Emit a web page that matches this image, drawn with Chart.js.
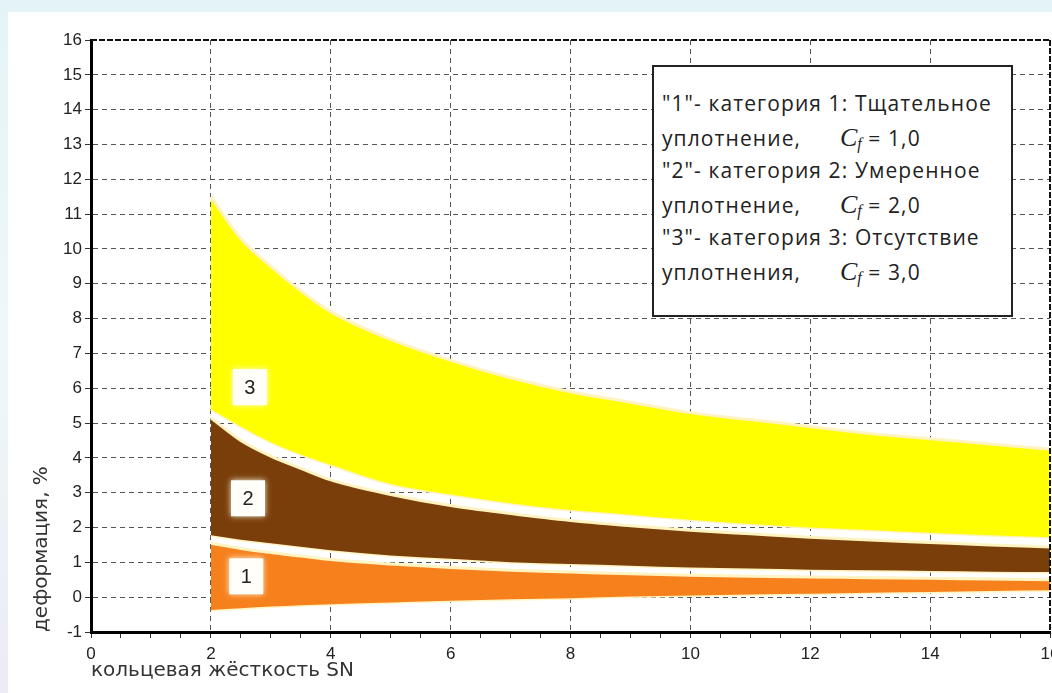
<!DOCTYPE html>
<html>
<head>
<meta charset="utf-8">
<script src="https://cdn.jsdelivr.net/npm/chart.js@4.4.0/dist/chart.umd.min.js"></script>
<style>
  html, body { margin: 0; padding: 0; }
  body {
    width: 1052px; height: 693px; position: relative; overflow: hidden;
    background: linear-gradient(180deg, #e4f4f6 0%, #eef8f8 50%, #ecebf6 100%);
  }
  #panel { position: absolute; left: 8px; top: 12px; right: 0; bottom: 0; background: #fff; }
  #wrap { position: absolute; left: 0; top: 0; width: 1052px; height: 693px; }
  #legendBox {
    position: absolute; left: 652px; top: 65px; width: 361px; height: 252px;
    border: 2px solid #222; background: #fff;
    font-family: "Open Sans", "Noto Sans", sans-serif; font-size: 21px; color: #222;
    letter-spacing: 1.1px;
    padding: 20px 0 0 8px; box-sizing: border-box; line-height: 33.5px;
  }
  #legendBox .row { white-space: nowrap; height: 33.5px; }
  #legendBox .lead { display: inline-block; width: 178px; }
  #legendBox .cf { font-family: "Liberation Serif", serif; font-style: italic; font-size: 26px; letter-spacing: 0; }
  #legendBox .cf sub { font-size: 16px; vertical-align: -3px; }
</style>
</head>
<body>
<div id="panel"></div>
<div id="wrap"><canvas id="chartDeform" width="1052" height="693"></canvas></div>
<div id="legendBox">
  <div class="row">"1"- категория 1: Тщательное</div>
  <div class="row"><span class="lead">уплотнение,</span><span class="cf">C<sub>f</sub></span> = 1,0</div>
  <div class="row">"2"- категория 2: Умеренное</div>
  <div class="row"><span class="lead">уплотнение,</span><span class="cf">C<sub>f</sub></span> = 2,0</div>
  <div class="row">"3"- категория 3: Отсутствие</div>
  <div class="row"><span class="lead">уплотнения,</span><span class="cf">C<sub>f</sub></span> = 3,0</div>
</div>
<script>
// кольцевая жёсткость SN
var sn = [2, 2.5, 3, 3.5, 4, 5, 6, 7, 8, 9, 10, 11, 12, 13, 14, 15, 16];

// деформация, % — upper / lower edges of each category band
var cat3Upper = [11.5, 10.3, 9.5, 8.8, 8.2, 7.4, 6.8, 6.3, 5.9, 5.6, 5.3, 5.1, 4.9, 4.7, 4.55, 4.4, 4.25];
var cat3Lower = [5.4, 4.9, 4.45, 4.1, 3.8, 3.25, 2.95, 2.7, 2.5, 2.37, 2.22, 2.1, 2.0, 1.93, 1.85, 1.78, 1.72];
var cat2Upper = [5.15, 4.5, 4.05, 3.7, 3.37, 2.95, 2.63, 2.4, 2.2, 2.05, 1.92, 1.82, 1.72, 1.64, 1.57, 1.5, 1.44];
var cat2Lower = [1.78, 1.65, 1.55, 1.45, 1.35, 1.2, 1.1, 1.0, 0.95, 0.9, 0.85, 0.82, 0.79, 0.77, 0.75, 0.73, 0.72];
var cat1Upper = [1.55, 1.4, 1.28, 1.18, 1.08, 0.95, 0.85, 0.77, 0.72, 0.67, 0.63, 0.6, 0.58, 0.56, 0.54, 0.52, 0.5];
var cat1Lower = [-0.37, -0.32, -0.27, -0.23, -0.2, -0.15, -0.1, -0.06, -0.03, 0.02, 0.05, 0.08, 0.1, 0.13, 0.15, 0.18, 0.2];

var bandNames = ['3', '2', '1'];

function pts(arr) {
    return sn.map(function (x, i) { return { x: x, y: arr[i] }; });
}

function band(label, arr, color, fill) {
    return {
        label: label,
        data: pts(arr),
        borderColor: '#fff3c2',
        borderWidth: 3,
        backgroundColor: color,
        fill: fill ? '+1' : false,
        pointRadius: 0,
        cubicInterpolationMode: 'monotone'
    };
}

// ── band number boxes + top/right frame ─────────────────────────────────
var extras = {
    id: 'extras',
    afterDatasetsDraw: function (chart) {
        var ctx = chart.ctx, xs = chart.scales.x, ys = chart.scales.y;
        var spots = [[2.65, 6.03], [2.62, 2.84], [2.59, 0.6]];
        ctx.save();
        spots.forEach(function (p, i) {
            var cx = xs.getPixelForValue(p[0]), cy = ys.getPixelForValue(p[1]);
            ctx.shadowColor = 'rgba(255,255,240,0.9)';
            ctx.shadowBlur = 6;
            ctx.fillStyle = '#fffef8';
            ctx.fillRect(cx - 17, cy - 18, 34, 36);
            ctx.shadowBlur = 0;
            ctx.fillStyle = '#222';
            ctx.font = '20px "Liberation Sans", Arial, sans-serif';
            ctx.textAlign = 'center';
            ctx.textBaseline = 'middle';
            ctx.fillText(bandNames[i], cx, cy + 1);
        });
        var a = chart.chartArea;
        ctx.strokeStyle = '#111';
        ctx.lineWidth = 2;
        ctx.setLineDash([6, 2]);
        ctx.beginPath();
        ctx.moveTo(a.left, a.top); ctx.lineTo(a.right, a.top);
        ctx.moveTo(a.right, a.top); ctx.lineTo(a.right, a.bottom);
        ctx.stroke();
        ctx.restore();
    }
};

function noPad(s) { s.paddingLeft = 0; s.paddingRight = 0; s.paddingTop = 0; s.paddingBottom = 0; }

new Chart(document.getElementById('chartDeform'), {
    type: 'line',
    data: {
        datasets: [
            band('3 верх', cat3Upper, '#ffff00', true),
            band('3 низ', cat3Lower, '#ffff00', false),
            band('2 верх', cat2Upper, '#7a3e0a', true),
            band('2 низ', cat2Lower, '#7a3e0a', false),
            band('1 верх', cat1Upper, '#f6801c', true),
            band('1 низ', cat1Lower, '#f6801c', false)
        ]
    },
    options: {
        responsive: false,
        animation: false,
        layout: { padding: { left: 0, top: 40, right: 2, bottom: 0 } },
        plugins: { legend: { display: false }, tooltip: { enabled: false } },
        scales: {
            x: {
                type: 'linear', min: 0, max: 16,
                afterFit: function (s) { s.height = 61; noPad(s); },
                ticks: {
                    stepSize: 0.5, autoSkip: false, maxRotation: 0, padding: 6,
                    color: '#222', font: { family: '"Liberation Sans", Arial, sans-serif', size: 17 },
                    callback: function (v) { return v % 2 === 0 ? String(v) : ''; }
                },
                grid: {
                    color: function (c) {
                        var v = c.tick ? c.tick.value : 0;
                        return (v % 2 === 0 && v > 0 && v < 16) ? '#555' : 'rgba(0,0,0,0)';
                    },
                    lineWidth: 1, tickLength: 6, tickColor: '#333', tickBorderDash: []
                },
                border: { display: true, color: '#000', width: 3, dash: [5, 4] },
                title: {
                    display: true, text: 'кольцевая жёсткость SN', align: 'start',
                    color: '#333', padding: { top: 0, bottom: 10 },
                    font: { family: '"DejaVu Sans", Verdana, sans-serif', size: 20 }
                }
            },
            y: {
                min: -1, max: 16,
                afterFit: function (s) { s.width = 91; noPad(s); },
                ticks: {
                    stepSize: 1, padding: 3, color: '#222',
                    font: { family: '"Liberation Sans", Arial, sans-serif', size: 17 }
                },
                grid: {
                    color: function (c) {
                        var v = c.tick ? c.tick.value : 0;
                        return (v > -1 && v < 16) ? '#555' : 'rgba(0,0,0,0)';
                    },
                    lineWidth: 1, tickLength: 6, tickColor: '#333', tickBorderDash: []
                },
                border: { display: true, color: '#000', width: 3, dash: [5, 4] },
                title: {
                    display: true, text: 'деформация, %', align: 'start',
                    color: '#333', padding: { top: 30, bottom: 0 },
                    font: { family: '"DejaVu Sans", Verdana, sans-serif', size: 20 }
                }
            }
        }
    },
    plugins: [extras]
});
</script>
</body>
</html>
